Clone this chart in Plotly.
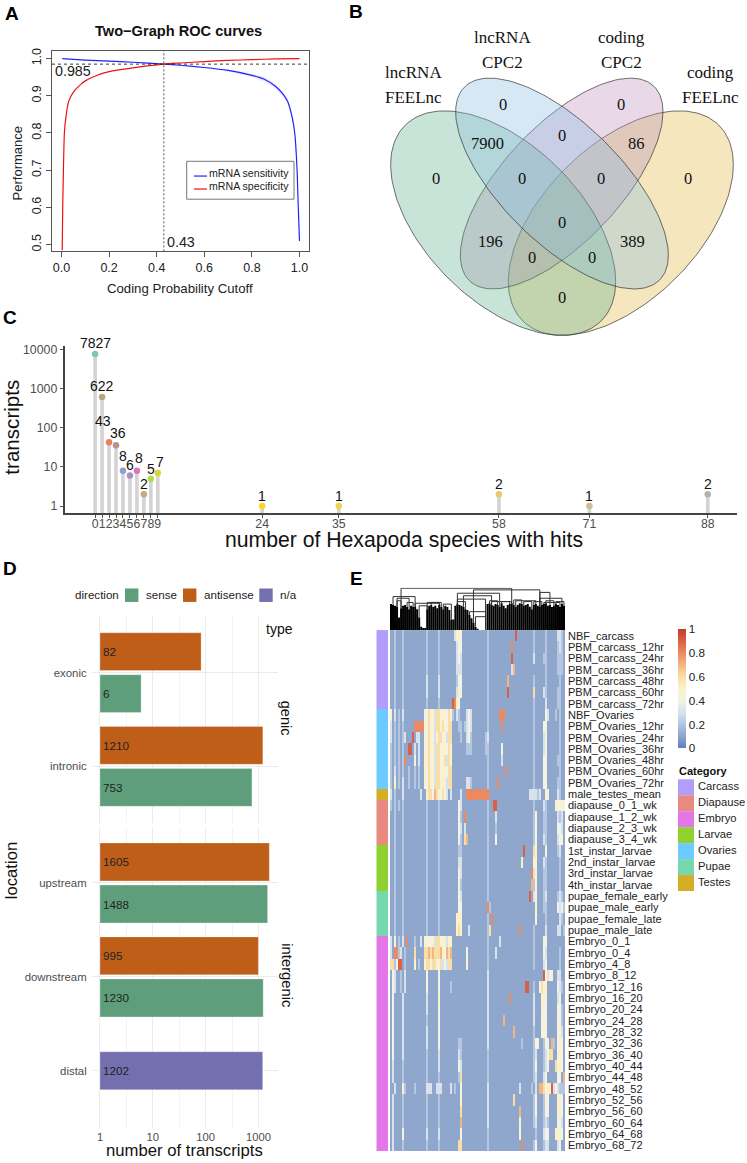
import math
import numpy as np
import plotly.graph_objects as go

W, H = 747, 1163

# ---------- Panel A data ----------
SENS_X = [0.003, 0.1, 0.2, 0.3, 0.43, 0.5, 0.6, 0.7, 0.8, 0.85, 0.9, 0.93, 0.95, 0.97, 0.98, 0.985, 0.99, 0.995, 1.0]
SENS_Y = [1.0, 0.996, 0.993, 0.990, 0.985, 0.982, 0.976, 0.968, 0.955, 0.945, 0.925, 0.905, 0.885, 0.84, 0.80, 0.76, 0.70, 0.60, 0.51]
SENS_SPREAD = [0, 0.001, 0.001, 0.001, 0.001, 0.001, 0.002, 0.003, 0.005, 0.006, 0.007, 0.007, 0.006, 0.005, 0.004, 0.003, 0.002, 0.002, 0.002]
SPEC_X = [0.003, 0.005, 0.008, 0.012, 0.02, 0.03, 0.05, 0.08, 0.1, 0.15, 0.2, 0.3, 0.43, 0.5, 0.6, 0.7, 0.8, 0.9, 1.0]
SPEC_Y = [0.485, 0.6, 0.7, 0.8, 0.85, 0.885, 0.91, 0.93, 0.94, 0.955, 0.965, 0.975, 0.985, 0.988, 0.992, 0.995, 0.997, 0.999, 1.0]
CUT_X, CUT_Y = 0.43, 0.985

# ---------- Panel B data ----------
VENN_SETS = ["lncRNA FEELnc", "lncRNA CPC2", "coding CPC2", "coding FEELnc"]
VENN_COUNTS = ["0", "7900", "0", "0", "0", "86", "0", "0", "0", "196", "0", "389", "0", "0", "0"]
VENN_COLORS = ["rgba(98,178,144,0.35)", "rgba(138,189,223,0.35)", "rgba(189,143,189,0.35)", "rgba(226,183,66,0.35)"]

# ---------- Panel C data ----------
HITS = [0, 1, 2, 3, 4, 5, 6, 7, 8, 9, 24, 35, 58, 71, 88]
TRANSCRIPTS = [7827, 622, 43, 36, 8, 6, 8, 2, 5, 7, 1, 1, 2, 1, 2]
HIT_COLORS = ["#7fc8a9", "#b5a67e", "#e8825a", "#b9938a", "#8f9fd0", "#b08fc7", "#de74bd", "#c6ab7e",
              "#b5d84c", "#d6d838", "#fad52e", "#f2d24e", "#e8c870", "#d1bc98", "#b3b3b3"]

# ---------- Panel D data ----------
GENIC = ["intronic", "exonic"]
GENIC_SENSE = [753, 6]
GENIC_ANTI = [1210, 82]
INTER = ["distal", "downstream", "upstream"]
INTER_SENSE = [None, 1230, 1488]
INTER_ANTI = [None, 995, 1605]
INTER_NA = [1202, None, None]
COL_SENSE, COL_ANTI, COL_NA = "#5e9e7b", "#bf5e18", "#746fae"

# ---------- Panel E data ----------
ROW_LABELS = ["NBF_carcass", "PBM_carcass_12hr", "PBM_carcass_24hr", "PBM_carcass_36hr", "PBM_carcass_48hr",
              "PBM_carcass_60hr", "PBM_carcass_72hr", "NBF_Ovaries", "PBM_Ovaries_12hr", "PBM_Ovaries_24hr",
              "PBM_Ovaries_36hr", "PBM_Ovaries_48hr", "PBM_Ovaries_60hr", "PBM_Ovaries_72hr", "male_testes_mean",
              "diapause_0_1_wk", "diapause_1_2_wk", "diapause_2_3_wk", "diapause_3_4_wk", "1st_instar_larvae",
              "2nd_instar_larvae", "3rd_instar_larvae", "4th_instar_larvae", "pupae_female_early", "pupae_male_early",
              "pupae_female_late", "pupae_male_late", "Embryo_0_1", "Embryo_0_4", "Embryo_4_8", "Embryo_8_12",
              "Embryo_12_16", "Embryo_16_20", "Embryo_20_24", "Embryo_24_28", "Embryo_28_32", "Embryo_32_36",
              "Embryo_36_40", "Embryo_40_44", "Embryo_44_48", "Embryo_48_52", "Embryo_52_56", "Embryo_56_60",
              "Embryo_60_64", "Embryo_64_68", "Embryo_68_72"]
CATEGORIES = ["Carcass", "Diapause", "Embryo", "Larvae", "Ovaries", "Pupae", "Testes"]
CAT_COLORS = ["#b39dfa", "#e88a80", "#e377e8", "#8fd12e", "#6ccbff", "#76d9ae", "#d6ad26"]
ROW_CATS = [0]*7 + [4]*7 + [6] + [1]*4 + [3]*4 + [5]*4 + [2]*19
# each digit is a cell value in tenths
HEAT = [
 "1121112111 1111111121 1111211111 1135541111 1111111121 1111111111 1191111111 1211111211 1113321",
 "1121112111 1111111121 1111211111 1113441111 1111111121 1111111111 8111111111 1211111211 1112321",
 "1121112111 1111111121 1111211111 1113431111 1111111121 1111111111 9111111111 1311112211 1112221",
 "1121112111 1111111121 1111211111 1113331111 1111111121 1111111111 3711111111 1111111211 1112221",
 "1121112111 1111111131 1111311111 1112441111 1111111121 1111111171 1111111111 1211111211 1111211",
 "1121112111 1111111131 1111311111 1113541111 1111111121 1111111191 1111111111 1611113211 1112211",
 "1121112111 1111111121 1111211111 1985411111 1111111121 1111111111 1111111111 1211111311 1112211",
 "5131213111 1111111446 5536654546 5213211134 3111111121 1111888111 1111111111 1211111431 1121211",
 "3121212111 1188888456 4536656446 6111221234 3111111121 1111181111 1111111111 1211114411 1111211",
 "3121212311 1913311456 5435664536 6111121134 2111111231 1111111111 1111111111 1211113511 1111211",
 "2121212119 9131311456 5536645546 5111111122 2111111221 1111141111 1111111111 1211113411 1111211",
 "2121212811 1141311556 4536645636 5111111111 1111111121 1111131111 1111111111 1211114411 1112211",
 "2131212112 1121211546 5536645546 6111111111 1111111121 1111111811 1111111111 1211114411 1111211",
 "2151213112 1121211546 5536655436 6111111133 2111111121 1118111111 1111111111 1211114411 1112211",
 "3121113111 1111131156 6476546431 3111131188 8888888881 1111111111 1111111113 3332311541 1113211",
 "2121212111 1111111121 1111211111 1111431111 1111111121 1991111111 1111111111 1211113211 1154545",
 "1121112111 1111111121 1111211111 1111421811 1111111121 1131111111 1111111111 1251112211 1113231",
 "1121112111 1111111121 1111211111 1111431311 1111111121 1121111111 1111111111 1241112211 1114431",
 "1121112111 1111111121 1111211111 1111421671 1111111121 1141111111 1111111111 1241113211 1113441",
 "1121112111 1111111121 1111211111 1111221111 1111111121 1111111111 1111119111 1651111411 1112311",
 "1121112111 1111111121 1111211111 1111331111 1111111121 1111111111 1111151111 1551113211 1111211",
 "1121112111 1111111121 1111211111 1111431111 1111111121 1111111111 1111111111 8351112211 1111211",
 "1121112111 1111111121 1111211111 1111421111 1111111121 1111111111 1111111111 7251112211 1111211",
 "1121112111 1111111121 1111211111 1111431111 1111111121 1111111111 1111111119 1351112311 1112321",
 "1121112111 1111111121 1111211111 1111441111 1111111182 1111111111 1111111111 1151112211 1114342",
 "1121112111 1111111121 1111211111 1115551111 1111111121 8111111111 1111111111 1141111211 1111321",
 "1121112111 1111111121 1111211111 1115651113 1111111126 1111111111 1111811111 1211111311 1113312",
 "3141213181 1121131545 4536645535 5111111111 1111111121 1111311111 1111111111 1211115411 1111111",
 "3188231211 1161111667 6766675476 7111111141 1111111121 1131111111 1111111111 1211114311 1111211",
 "6624991211 1151211566 5664563436 6111111151 1111111121 1111111111 1111111111 1211113411 1111211",
 "1431121311 1111111141 1111411111 1111111111 1111111131 1111111111 1111111111 1111119435 4113311",
 "1431121311 1111111141 1111411111 2111111111 1111111131 1111111111 1111111991 1211465511 1114321",
 "1411113111 1111111131 1111511111 1111111111 1111111131 1111111118 1111111111 1311155411 1113411",
 "1411113111 1111111131 1111411111 1111111111 1111111131 1111111111 1111111111 1311154411 1114421",
 "1411113111 1111111121 1111411111 1111111111 1111111131 1111117111 1111111111 1311145411 1114521",
 "1411113111 1111111131 1111411111 1111111111 1111111131 1111111111 1711111111 1211145411 1114531",
 "1411113111 1111111131 1111411111 1111221111 1111111131 1111111111 1111121111 1245112441 7214551",
 "1411113111 1111111121 1111311111 1111321111 1111111121 1111111111 1111111111 1231112346 6114541",
 "1311112111 1111111121 1111311111 1111431111 1111111121 1111111111 1111111111 1241112341 1165541",
 "1311112111 1111111121 1111211111 1111261111 1111111121 1111111111 1111111111 1231113411 1114417",
 "1131115211 1121111133 3113331111 3121141111 1111111131 1111111111 1111311111 2131776554 9343222",
 "1311112111 1111111121 1111211111 1111151111 1111111131 1111111111 1611111111 1241112541 1115541",
 "1311112111 1111111121 1111211111 1111161111 1111111131 1111111111 1111711111 1241112441 1115541",
 "1311112111 1111111121 1111211111 1111171111 1111111131 1111111111 1111511111 1231112321 1114431",
 "1311114111 1111111131 1111311111 1111141111 1111111121 1111111111 1111411111 1121113441 1155541",
 "1311112111 1111111121 1111211111 1111661111 1111111121 1111111111 1111181111 1241112331 1113411",
]
DENDRO_TOPS = [62,60,58,56,30,52,58,60,55,50, 58,56,55,50,30,8,5,5,50,58,
               60,55,58,52,60,55,50,58,55,48, 25,25,58,62,60,58,55,50,48,36,
               28,18,8,2,0,0,0,0,62,64, 60,58,62,60,56,64,58,52,60,62,
               64,60,56,60,64,62,58,60,62,56, 50,60,62,58,56,60,62,64,58,60,
               55,58,62,60,56,62,58]
MERGE_LEFT = [5, 41, 33, 36, 74, 33, 1, 3, 12, 18, 39, 42, 74, 50, 62, 76, 3,
              8, 14, 20, 26, 33, 49, 55, 61, 66, 71, 77, 82]
MERGE_RIGHT = [60, 74, 54, 50, 85, 47, 12, 9, 24, 25, 47, 47, 79, 60, 72, 84, 5,
               11, 18, 24, 30, 37, 53, 59, 65, 70, 75, 81, 86]
MERGE_HEIGHT = [100, 96, 88, 82, 76, 74, 80, 76, 64, 66, 44, 32, 90, 68, 70, 66, 70,
                66, 58, 66, 62, 68, 70, 68, 72, 68, 68, 70, 68]

HEAT_SCALE = [[0, "#5f7fbb"], [0.1, "#8fa6cd"], [0.2, "#b4c6e0"], [0.3, "#d7e2ea"], [0.4, "#f2f3e4"],
              [0.5, "#fbf1cc"], [0.6, "#f9dfa6"], [0.8, "#ea8a62"], [1, "#c5382c"]]

FONT = "Liberation Sans"


def xdom(a, b):
    return [a / W, b / W]


def ydom(top, bottom):
    return [1 - bottom / H, 1 - top / H]


annotations = []
shapes = []


def label(x, y, text, size=12, color="#111", bold=False, angle=0, anchor="center", family=FONT):
    annotations.append(dict(xref="paper", yref="paper", x=x / W, y=1 - (y - 1.2) / H, text=f"<b>{text}</b>" if bold else text,
                            showarrow=False, xanchor=anchor, yanchor="middle", textangle=angle, borderpad=0,
                            font=dict(size=size, color=color, family=family)))


def box(x0, y0, x1, y1, fill, line=None, lw=0):
    shapes.append(dict(type="rect", xref="paper", yref="paper", x0=x0 / W, x1=x1 / W, y0=1 - y0 / H, y1=1 - y1 / H,
                       fillcolor=fill, line=dict(color=line or fill, width=lw), layer="above"))


fig = go.Figure()

# ---------- A ----------
sens_hi = [a + b for a, b in zip(SENS_Y, SENS_SPREAD)]
sens_lo = [a - b for a, b in zip(SENS_Y, SENS_SPREAD)]
fig.add_trace(go.Scatter(x=SENS_X + SENS_X[::-1], y=sens_hi + sens_lo[::-1], fill="toself", mode="none",
                         fillcolor="rgba(0,0,255,0.08)", xaxis="x", yaxis="y", showlegend=False, hoverinfo="skip"))
fig.add_trace(go.Scatter(x=SENS_X, y=SENS_Y, mode="lines", line=dict(color="#2222ff", width=1.2, shape="spline", smoothing=0.5),
                         xaxis="x", yaxis="y", showlegend=False))
fig.add_trace(go.Scatter(x=SPEC_X, y=SPEC_Y, mode="lines", line=dict(color="#ee1111", width=1.2, shape="spline", smoothing=0.5),
                         xaxis="x", yaxis="y", showlegend=False))
fig.add_trace(go.Scatter(x=[-0.04, 1.04], y=[CUT_Y, CUT_Y], mode="lines", line=dict(color="#222", width=0.9, dash="3px,3px"),
                         xaxis="x", yaxis="y", showlegend=False))
fig.add_trace(go.Scatter(x=[CUT_X, CUT_X], y=[0.482, 1.0206], mode="lines", line=dict(color="#555", width=1, dash="2px,2px"),
                         xaxis="x", yaxis="y", showlegend=False))
RAXIS = dict(showgrid=False, zeroline=False, showline=True, linecolor="#555", linewidth=1, mirror=True, ticks="outside",
             ticklen=5, tickcolor="#555", tickfont=dict(size=12.5, color="#222", family=FONT))
layout_axes = dict(
    xaxis=dict(domain=xdom(52, 309), range=[-0.04, 1.04], anchor="y", tickvals=[0, .2, .4, .6, .8, 1],
               ticktext=["0.0", "0.2", "0.4", "0.6", "0.8", "1.0"], **RAXIS),
    yaxis=dict(domain=ydom(48, 249), range=[0.482, 1.0206], anchor="x", tickvals=[.5, .6, .7, .8, .9, 1],
               ticktext=["0.5", "0.6", "0.7", "0.8", "0.9", "1.0"], tickangle=-90, **RAXIS),
)
label(12, 12, "A", 19, "#000", True)
label(178.5, 29, "Two−Graph ROC curves", 14.6, "#111", True)
label(180, 287, "Coding Probability Cutoff", 13.2, "#222")
label(17, 162, "Performance", 13, "#222", angle=-90)
label(54, 69, "0.985", 14.3, "#222", anchor="left")
label(166, 241, "0.43", 14.3, "#222", anchor="left")
box(186.7, 158.7, 294, 196.7, "rgba(255,255,255,0)", "#777", 1)
shapes.append(dict(type="line", xref="paper", yref="paper", x0=194 / W, x1=207 / W, y0=1 - 173.5 / H, y1=1 - 173.5 / H,
                   line=dict(color="#2222ff", width=1.2)))
shapes.append(dict(type="line", xref="paper", yref="paper", x0=194 / W, x1=207 / W, y0=1 - 186.5 / H, y1=1 - 186.5 / H,
                   line=dict(color="#ee1111", width=1.2)))
label(208.5, 172, "mRNA sensitivity", 10.6, "#222", anchor="left")
label(208.5, 184.5, "mRNA specificity", 10.6, "#222", anchor="left")

# ---------- B ----------
# (centre x, centre y, half width, half height, tilt correlation) in reference zoom units
ELLIPSES = [(489.5, 662, 337.5, 337.5, 0.52), (666, 543, 319, 317, 0.68),
            (665, 543, 304, 317, -0.68), (842.5, 662, 337.5, 337.5, -0.52)]
DRAW_ORDER = [3, 2, 0, 1]
t = np.linspace(0, 2 * math.pi, 181)
for i in DRAW_ORDER:
    cx, cy, a, b, rho = ELLIPSES[i]
    ex = cx + a * np.cos(t)
    ey = cy + b * (rho * np.cos(t) + math.sqrt(1 - rho * rho) * np.sin(t))
    fig.add_trace(go.Scatter(x=ex / 3 + 340, y=ey / 3, mode="lines", fill="toself", fillcolor=VENN_COLORS[i],
                             line=dict(color="#333", width=0.7), xaxis="x2", yaxis="y2", showlegend=False, hoverinfo="skip"))
layout_axes["xaxis2"] = dict(domain=xdom(340, 747), range=[340, 747], visible=False, anchor="y2")
layout_axes["yaxis2"] = dict(domain=ydom(0, 340), range=[340, 0], visible=False, anchor="x2")
COUNT_POS = [(287, 532), (441, 427), (488, 308), (666, 403), (843, 308), (890, 427), (1044, 532), (547, 532),
             (784, 532), (453, 722), (666, 663), (878, 722), (577, 770), (755, 770), (666, 888)]
SERIF = "Liberation Serif"
for txt, (zx, zy) in zip(VENN_COUNTS, COUNT_POS):
    label(340 + zx / 3, zy / 3, txt, 16.5, "#111", family=SERIF)
SET_POS = [(219, 212, 287), (488, 108, 182), (843, 108, 182), (1111, 212, 287)]
for name, (zx, zy1, zy2) in zip(VENN_SETS, SET_POS):
    first, second = name.split(" ")
    label(340 + zx / 3, zy1 / 3, first, 17, "#111", family=SERIF)
    label(340 + zx / 3, zy2 / 3, second, 17, "#111", family=SERIF)
label(355.5, 9.5, "B", 19, "#000", True)

# ---------- C ----------
C_BOTTOM = 10 ** -0.189
stem_x, stem_y = [], []
for h, v in zip(HITS, TRANSCRIPTS):
    stem_x += [h, h, None]
    stem_y += [C_BOTTOM, v, None]
fig.add_trace(go.Scatter(x=stem_x, y=stem_y, mode="lines", line=dict(color="#d3d3d3", width=3.6), xaxis="x3", yaxis="y3",
                         showlegend=False, hoverinfo="skip"))
fig.add_trace(go.Scatter(x=HITS, y=TRANSCRIPTS, mode="markers", marker=dict(color=HIT_COLORS, size=6.5), xaxis="x3", yaxis="y3",
                         showlegend=False))
NUDGE_X = [0, 0, -6, 2, 0, 0, 2, 0, 0, 2, 0, 0, 0, 0, 0]
NUDGE_Y = [11, 11, 21, 12, 15, 11, 13, 10, 10, 11, 10, 10, 10, 10, 10]
for h, v, nx, ny in zip(HITS, TRANSCRIPTS, NUDGE_X, NUDGE_Y):
    annotations.append(dict(xref="x3", yref="y3", x=h, y=math.log10(v), text=str(v), showarrow=False, xshift=nx, yshift=ny,
                            font=dict(size=14, color="#111", family=FONT), xanchor="center", yanchor="middle", borderpad=0))
CAX = dict(showgrid=False, zeroline=False, showline=True, linecolor="#444", linewidth=1.6, ticks="outside", ticklen=3,
           tickcolor="#555", tickfont=dict(size=12.3, color="#4d4d4d", family=FONT))
layout_axes["xaxis3"] = dict(domain=xdom(64.5, 737), range=[-4.4, 92.2], anchor="y3", tickmode="array", tickvals=HITS,
                             ticktext=[str(h) for h in HITS], tickangle=0, ticklabelstandoff=-5, **CAX)
layout_axes["yaxis3"] = dict(domain=ydom(344, 511.7), type="log", range=[-0.189, 4.094], anchor="x3", tickmode="array",
                             tickvals=[1, 10, 100, 1000, 10000], ticktext=["1", "10", "100", "1000", "10000"], **CAX)
label(10, 317, "C", 19, "#000", True)
label(12, 427, "transcripts", 20.6, "#111", angle=-90)
label(403.5, 540, "number of Hexapoda species with hits", 21.2, "#111")


# ---------- D ----------
def dbar(cats, vals, col, ax_x, ax_y, offset):
    ys = [c for c, v in zip(cats, vals) if v is not None]
    vs = [v for v in vals if v is not None]
    fig.add_trace(go.Bar(y=ys, x=[v - 1 for v in vs], base=1, orientation="h", width=0.404, offset=offset,
                         marker=dict(color=col, line=dict(color="rgba(255,255,255,0.35)", width=0.8)),
                         text=[str(v) for v in vs], textposition="inside", insidetextanchor="start", textangle=0,
                         constraintext="none", textfont=dict(size=11.7, color="#222", family=FONT), xaxis=ax_x, yaxis=ax_y,
                         showlegend=False))


dbar(GENIC, GENIC_ANTI, COL_ANTI, "x4", "y4", 0.022)
dbar(GENIC, GENIC_SENSE, COL_SENSE, "x4", "y4", -0.426)
dbar(INTER, INTER_ANTI, COL_ANTI, "x5", "y5", 0.022)
dbar(INTER, INTER_SENSE, COL_SENSE, "x5", "y5", -0.426)
dbar(INTER, INTER_NA, COL_NA, "x5", "y5", -0.202)

XGRID = dict(type="log", range=[-0.157, 3.37], showgrid=True, gridcolor="#ebebeb", gridwidth=0.8, zeroline=False, showline=False,
             ticks="", tickmode="array", tickvals=[1, 10, 100, 1000],
             minor=dict(tickmode="array", tickvals=[3.162, 31.62, 316.2], showgrid=True, gridcolor="#f3f3f3", gridwidth=0.6, ticks=""))
YGRID = dict(type="category", categoryorder="array", showgrid=True, gridcolor="#ebebeb", gridwidth=0.8, zeroline=False, showline=False,
             ticks="", ticklabelstandoff=4, tickfont=dict(size=11.4, color="#4d4d4d", family=FONT))
layout_axes["xaxis4"] = dict(domain=xdom(91.7, 278), anchor="y4", ticktext=["", "", "", ""], **XGRID)
layout_axes["yaxis4"] = dict(domain=ydom(615, 821.7), anchor="x4", categoryarray=GENIC, range=[-0.6, 1.6], **YGRID)
layout_axes["xaxis5"] = dict(domain=xdom(91.7, 278), anchor="y5", ticktext=["1", "10", "100", "1000"],
                             tickfont=dict(size=11.2, color="#4d4d4d", family=FONT), **XGRID)
layout_axes["yaxis5"] = dict(domain=ydom(826.7, 1128.3), anchor="x5", categoryarray=INTER, range=[-0.613, 2.59], **YGRID)
label(10, 568, "D", 19, "#000", True)
label(11.7, 871, "location", 16.7, "#111", angle=-90)
label(184.7, 1151.7, "number of transcripts", 16.7, "#111")
label(294, 629.3, "type", 14, "#111", anchor="right")
label(285.5, 718.3, "genic", 14.5, "#111", angle=90)
label(286.7, 976.7, "intergenic", 14.8, "#111", angle=90)
label(74, 594, "direction", 11.6, "#222", anchor="left")
for x0, col, name, tx in [(125, COL_SENSE, "sense", 144.5), (183, COL_ANTI, "antisense", 202.5), (259.3, COL_NA, "n/a", 278.5)]:
    box(x0, 587, x0 + 13.4, 600.5, col)
    label(tx, 594, name, 11.6, "#222", anchor="left")

# ---------- E ----------
rows = [s.replace(" ", "") for s in HEAT]
Z = [[int(c) / 10 for c in r] for r in rows]
NROW, NCOL = len(Z), len(Z[0])
fig.add_trace(go.Heatmap(z=Z, x=list(range(NCOL)), y=list(range(NROW)), colorscale=HEAT_SCALE, zmin=0, zmax=1, xaxis="x6", yaxis="y6",
                         colorbar=dict(x=678 / W, xanchor="left", y=1 - 747.3 / H, yanchor="bottom", len=118.6, lenmode="pixels",
                                       thickness=8, thicknessmode="pixels", outlinewidth=0, xpad=0, ypad=0, ticks="",
                                       tickmode="array", tickvals=[0, .2, .4, .6, .8, 1], ticktext=["0", "0.2", "0.4", "0.6", "0.8", "1"],
                                       tickfont=dict(size=11.7, color="#222", family=FONT))))
n_cat = len(CATEGORIES)
STRIP_SCALE = []
for i, c in enumerate(CAT_COLORS):
    STRIP_SCALE += [[i / n_cat, c], [(i + 1) / n_cat, c]]
fig.add_trace(go.Heatmap(z=[[c] for c in ROW_CATS], x=[0], y=list(range(NROW)), colorscale=STRIP_SCALE, zmin=-0.5, zmax=n_cat - 0.5,
                         showscale=False, xaxis="x7", yaxis="y7", hoverinfo="skip"))
layout_axes["xaxis6"] = dict(domain=xdom(390, 565), range=[-0.5, NCOL - 0.5], visible=False, anchor="y6")
layout_axes["yaxis6"] = dict(domain=ydom(628.7, 1151), range=[NROW - 0.5, -0.5], anchor="x6", side="right", tickmode="array",
                             tickvals=list(range(NROW)), ticktext=ROW_LABELS, ticks="", showgrid=False, zeroline=False, showline=False,
                             ticklabelstandoff=2, tickfont=dict(size=11, color="#222", family=FONT))
layout_axes["xaxis7"] = dict(domain=xdom(376.3, 388), range=[-0.5, 0.5], visible=False, anchor="y7")
layout_axes["yaxis7"] = dict(domain=ydom(628.7, 1151), range=[NROW - 0.5, -0.5], visible=False, anchor="x7")

fig.add_trace(go.Bar(x=list(range(NCOL)), y=DENDRO_TOPS, width=1, marker=dict(color="#000", line=dict(width=0)), xaxis="x8", yaxis="y8",
                     showlegend=False, hoverinfo="skip"))
mx, my = [], []
for l, r, h in zip(MERGE_LEFT, MERGE_RIGHT, MERGE_HEIGHT):
    mx += [l, l, r, r, None]
    my += [DENDRO_TOPS[l], h, h, DENDRO_TOPS[r], None]
fig.add_trace(go.Scatter(x=mx, y=my, mode="lines", line=dict(color="#333", width=1), xaxis="x8", yaxis="y8", showlegend=False,
                         hoverinfo="skip"))
layout_axes["xaxis8"] = dict(domain=xdom(390, 565), range=[-0.5, NCOL - 0.5], visible=False, anchor="y8")
layout_axes["yaxis8"] = dict(domain=ydom(586.3, 628.7), range=[0, 101], visible=False, anchor="x8")

label(356, 578, "E", 19, "#000", True)
label(678, 771, "Category", 11, "#111", True, anchor="left")
for i, (name, col) in enumerate(zip(CATEGORIES, CAT_COLORS)):
    box(678, 778.3 + 16 * i, 694, 794.3 + 16 * i, col)
    label(696.5, 786.3 + 16 * i, name, 11.2, "#222", anchor="left")

fig.update_layout(width=W, height=H, autosize=False, margin=dict(l=0, r=0, t=0, b=0), paper_bgcolor="white", plot_bgcolor="white",
                  barmode="overlay", font=dict(family=FONT), showlegend=False, annotations=annotations, shapes=shapes, **layout_axes)
fig.write_html("out.html", config=dict(displayModeBar=False),
               post_script="document.body.style.margin='0';document.documentElement.style.overflow='hidden';")
